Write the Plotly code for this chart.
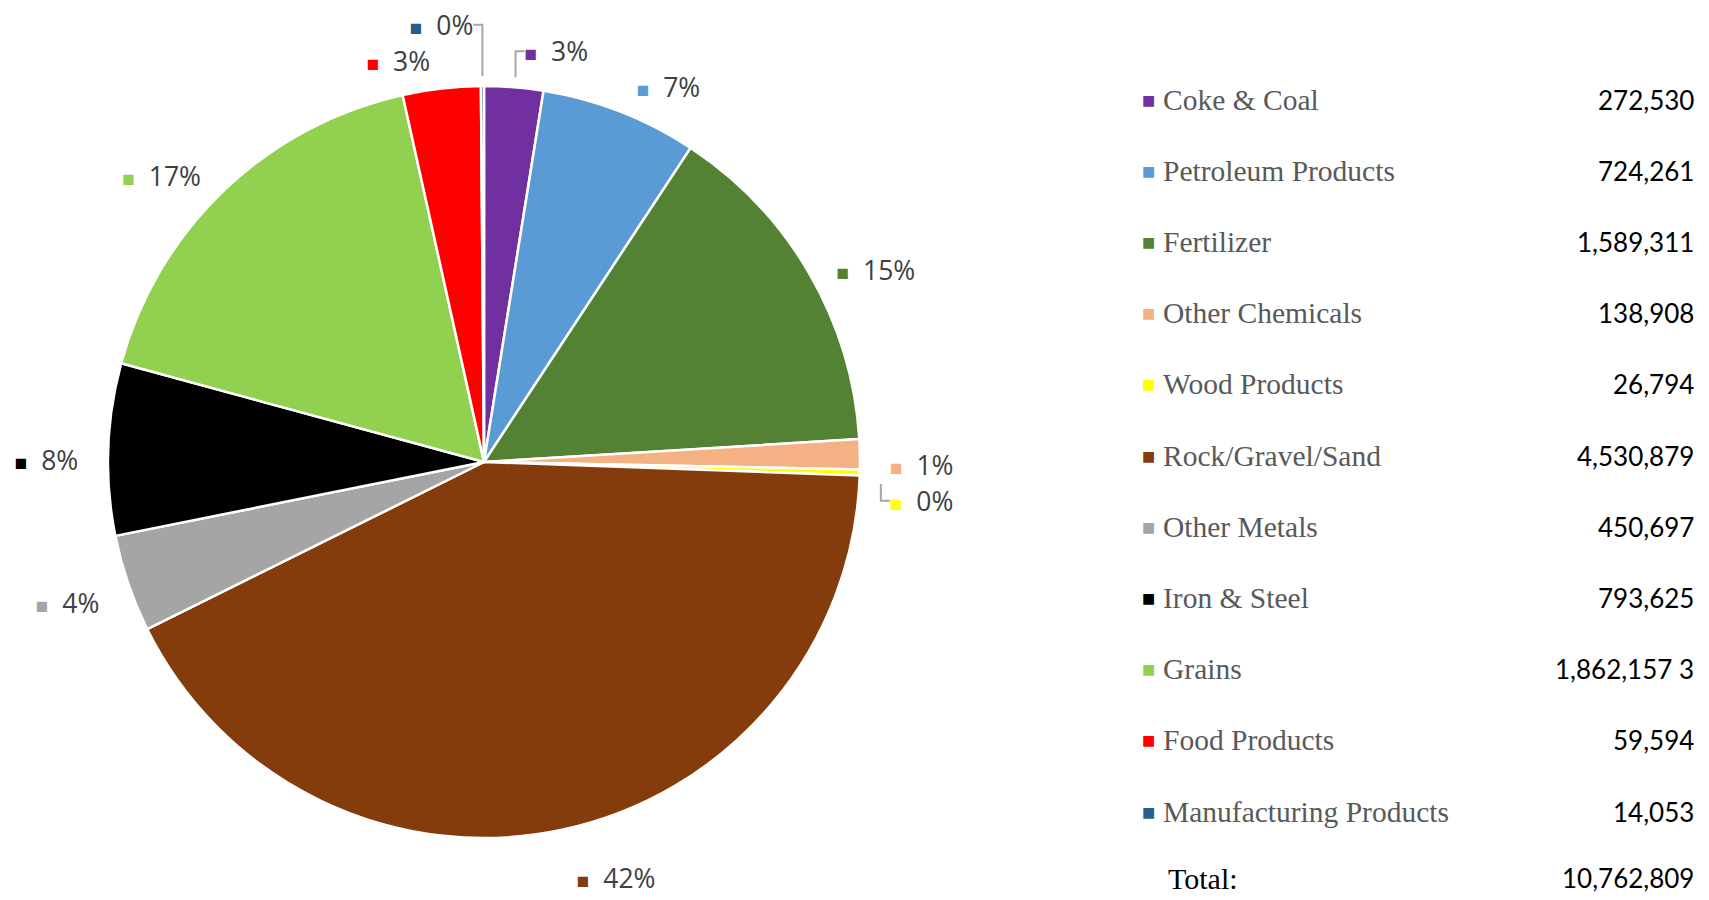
import plotly.graph_objects as go

categories = ["Coke & Coal", "Petroleum Products", "Fertilizer", "Other Chemicals",
              "Wood Products", "Rock/Gravel/Sand", "Other Metals", "Iron & Steel",
              "Grains", "Food Products", "Manufacturing Products"]
tons = [272530, 724261, 1589311, 138908, 26794, 4530879, 450697, 793625,
        1862157, 359594, 14053]
pct_labels = ["3%", "7%", "15%", "1%", "0%", "42%", "4%", "8%", "17%", "3%", "0%"]
value_labels = ["272,530", "724,261", "1,589,311", "138,908", "26,794", "4,530,879",
                "450,697", "793,625", "1,862,157 3", "59,594", "14,053"]
total_label = "10,762,809"
colors = ["#7030A0", "#5B9BD5", "#548235", "#F4B183", "#FFFF00", "#843C0C",
          "#A5A5A5", "#000000", "#92D050", "#FF0000", "#255E91"]

W, H = 1709, 900
CX, CY, R = 476, 454, 376      # pie centre / radius in pixels
R_LAB, CY_LAB = 397, 465       # invisible outer ring used to place the labels
markers = ["<span style='color:%s;font-size:21px'>■</span>  " % c for c in colors]


def dom(r, cy):
    return dict(x=[(CX - r) / W, (CX + r) / W], y=[1 - (cy + r) / H, 1 - (cy - r) / H])


fig = go.Figure()
fig.add_trace(go.Pie(
    labels=categories, values=tons, sort=False, direction="clockwise",
    marker=dict(colors=colors, line=dict(color="white", width=2.5)),
    textinfo="none", domain=dom(R, CY),
    showlegend=False, hoverinfo="label+value+percent",
))
fig.add_trace(go.Pie(
    labels=categories, values=tons, sort=False, direction="clockwise",
    marker=dict(colors=["rgba(0,0,0,0)"] * len(tons), line=dict(width=0)),
    customdata=markers, text=pct_labels,
    texttemplate="%{customdata}<span style='color:#404040'>%{text}</span>",
    textposition="outside", automargin=False,
    outsidetextfont=dict(family="Open Sans", size=26.5, color="#A6A6A6"),
    domain=dom(R_LAB, CY_LAB),
    showlegend=False, hoverinfo="skip",
))

annotations = []
y0, step = 91.5, 71.2
for i, (name, val, c) in enumerate(zip(categories, value_labels, colors)):
    yp = 1 - (y0 + i * step) / H
    annotations.append(dict(x=1140 / W, y=yp, xref="paper", yref="paper", text="■",
                            showarrow=False, xanchor="center", yanchor="middle",
                            font=dict(family="DejaVu Sans", size=14, color=c)))
    annotations.append(dict(x=1153 / W, y=yp, xref="paper", yref="paper", text=name,
                            showarrow=False, xanchor="left", yanchor="middle",
                            font=dict(family="Liberation Serif", size=29.5, color="#595959")))
    annotations.append(dict(x=1688 / W, y=yp, xref="paper", yref="paper", text=val,
                            showarrow=False, xanchor="right", yanchor="middle",
                            font=dict(family="Lato", size=26, color="#000000")))
yt = 1 - 870 / H
annotations.append(dict(x=1158 / W, y=yt, xref="paper", yref="paper", text="Total:",
                        showarrow=False, xanchor="left", yanchor="middle",
                        font=dict(family="Liberation Serif", size=30, color="#000000")))
annotations.append(dict(x=1688 / W, y=yt, xref="paper", yref="paper", text=total_label,
                        showarrow=False, xanchor="right", yanchor="middle",
                        font=dict(family="Lato", size=26, color="#000000")))

fig.update_layout(width=W, height=H,
                  margin=dict(l=0, r=0, t=0, b=0, autoexpand=False),
                  paper_bgcolor="white", plot_bgcolor="white",
                  annotations=annotations)
fig.write_html("out.html")
